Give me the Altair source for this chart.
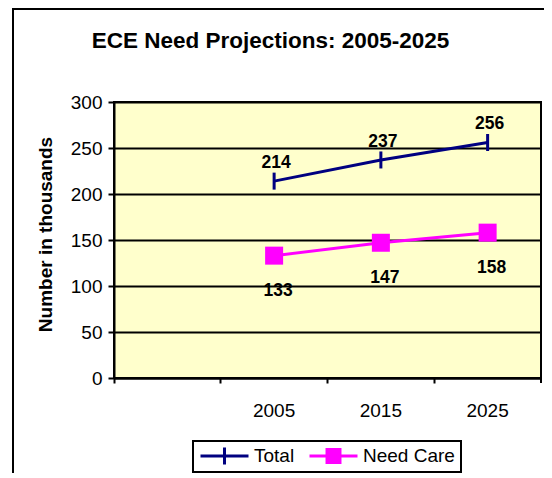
import altair as alt
import pandas as pd

# ---- data ----
categories = ["", "2005", "2015", "2025"]
years = ["2005", "2015", "2025"]
series_names = ["Total", "Need Care"]
total_values = [214, 237, 256]
need_care_values = [133, 147, 158]
y_ticks = [0, 50, 100, 150, 200, 250, 300]
series_colors = ["#000080", "#FF00FF"]

rows = []
for yr, v in zip(years, total_values):
    rows.append({"year": yr, "series": "Total", "value": v})
for yr, v in zip(years, need_care_values):
    rows.append({"year": yr, "series": "Need Care", "value": v})
df = pd.DataFrame(rows)
one = pd.DataFrame({"k": [0]})

FONT = "Arial, Liberation Sans, sans-serif"
W, H = 427, 276

x_enc = alt.X(
    "year:N",
    scale=alt.Scale(type="band", domain=categories, paddingInner=0, paddingOuter=0),
    bandPosition=0.5,
    title=None,
    axis=alt.Axis(
        bandPosition=0, labelAngle=0,
        labelFont=FONT, labelFontSize=19, labelColor="black", labelPadding=18,
        tickSize=5, tickWidth=2, tickColor="black",
        domainColor="black", domainWidth=2, grid=False,
    ),
)
y_enc = alt.Y(
    "value:Q",
    scale=alt.Scale(domain=[0, 300], nice=False),
    title="Number in thousands",
    axis=alt.Axis(
        values=y_ticks, labelFont=FONT, labelFontSize=19, labelColor="black",
        labelPadding=6, tickSize=6, tickWidth=2, tickColor="black",
        domainColor="black", domainWidth=2,
        grid=True, gridColor="black", gridWidth=1.8,
        titleFont=FONT, titleFontSize=19, titleFontWeight="bold", titleColor="black",
        titleX=-69, titleY=132, titleBaseline="middle", titleAngle=-90,
    ),
)

base = alt.Chart(df)
total_df = base.transform_filter(alt.datum.series == "Total")
need_df = base.transform_filter(alt.datum.series == "Need Care")

border = alt.Chart(one).mark_rect(filled=False, stroke="black", strokeWidth=2).encode(
    x=alt.value(-101), x2=alt.value(600), y=alt.value(-93), y2=alt.value(600)
)

end_tick = alt.Chart(one).mark_rule(color="black", strokeWidth=2).encode(
    x=alt.value(W), y=alt.value(H), y2=alt.value(H + 5)
)

total_line = total_df.mark_line(strokeWidth=3, color=series_colors[0]).encode(x=x_enc, y=y_enc)
need_line = need_df.mark_line(strokeWidth=3, color=series_colors[1]).encode(x=x_enc, y=y_enc)

total_pts = total_df.mark_point(
    shape="M0,-1V1", size=289, strokeWidth=3, color=series_colors[0], filled=False, opacity=1
).encode(x=x_enc, y=y_enc)

need_pts = need_df.mark_square(
    size=324, color=series_colors[1], filled=True, opacity=1
).encode(x=x_enc, y=y_enc)

total_lbl = total_df.mark_text(
    dy=-18, dx=2, font=FONT, fontSize=17.5, fontWeight="bold", color="black"
).encode(x=x_enc, y=y_enc, text="value:Q")

need_lbl = need_df.mark_text(
    dy=35, dx=4, font=FONT, fontSize=17.5, fontWeight="bold", color="black"
).encode(x=x_enc, y=y_enc, text="value:Q")

legend_def = alt.Legend(
    orient="none", legendX=79, legendY=339, direction="horizontal", title=None,
    strokeColor="black", fillColor="white", padding=6,
    symbolSize=2304, symbolStrokeWidth=3, clipHeight=18, symbolOpacity=1,
    labelFont=FONT, labelFontSize=19, labelColor="black", labelOffset=4,
    columnPadding=13,
)
path_total = "M-1,0H1M0,-0.35V0.35"
path_need = "M-1,0H1M-0.27,-0.27H0.27V0.27H-0.27Z"

# legend-only layer: its own marks are filtered away, the scales keep their explicit domains
legend_layer = base.transform_filter("false").mark_point(filled=True, strokeWidth=3, opacity=1).encode(
    x=x_enc, y=y_enc,
    fill=alt.Fill("series:N", scale=alt.Scale(domain=series_names, range=series_colors), legend=legend_def),
    stroke=alt.Stroke("series:N", scale=alt.Scale(domain=series_names, range=series_colors), legend=legend_def),
    shape=alt.Shape("series:N", scale=alt.Scale(domain=series_names, range=[path_total, path_need]), legend=legend_def),
)

chart = alt.layer(
    border, total_line, need_line, total_pts, need_pts, total_lbl, need_lbl, legend_layer, end_tick
).properties(
    width=W, height=H,
    title=alt.TitleParams(
        "ECE Need Projections: 2005-2025", font=FONT, fontSize=22.5, fontWeight="bold",
        color="black", anchor="middle", dx=-57, offset=-62, baseline="alphabetic", frame="group",
    ),
    autosize=alt.AutoSizeParams(type="none"),
    padding={"left": 106, "top": 94, "right": 3, "bottom": 95},
    background="white",
).configure_view(
    fill="#FFFFCC", stroke="black", strokeWidth=2
).configure_legend(strokeWidth=2)

chart.save("out.html", embed_options={"renderer": "svg", "actions": False})
